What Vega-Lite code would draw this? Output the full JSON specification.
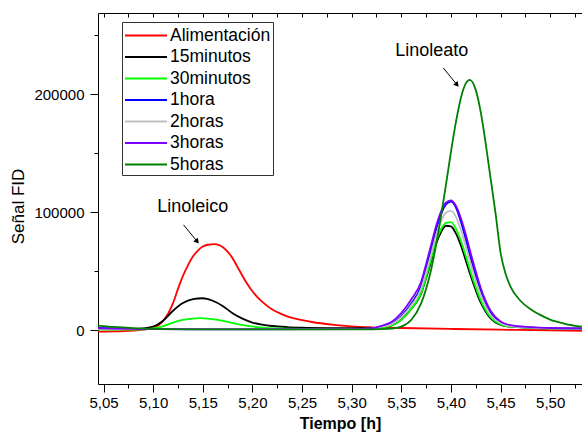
{
  "$schema": "https://vega.github.io/schema/vega-lite/v6.json",
  "width": 484,
  "height": 371,
  "autosize": {"type": "none"},
  "padding": {"left": 98, "top": 13, "right": 0, "bottom": 53},
  "background": "white",
  "config": {
    "view": {"stroke": null},
    "font": "Liberation Sans",
    "axis": {"grid": false, "domainColor": "black", "tickColor": "black", "labelColor": "black", "titleColor": "black", "labelFont": "Liberation Sans", "titleFont": "Liberation Sans", "domainWidth": 1, "tickWidth": 1}
  },
  "datasets": {
    "curves": [
      {"s":"Alimentación","t":5.044,"v":-1200},{"s":"Alimentación","t":5.06,"v":-1000},{"s":"Alimentación","t":5.07,"v":-700},{"s":"Alimentación","t":5.08,"v":-200},{"s":"Alimentación","t":5.09,"v":600},{"s":"Alimentación","t":5.10,"v":2000},{"s":"Alimentación","t":5.105,"v":4000},{"s":"Alimentación","t":5.11,"v":8000},{"s":"Alimentación","t":5.115,"v":14000},{"s":"Alimentación","t":5.12,"v":23000},{"s":"Alimentación","t":5.125,"v":35000},{"s":"Alimentación","t":5.13,"v":46000},{"s":"Alimentación","t":5.135,"v":55000},{"s":"Alimentación","t":5.14,"v":62400},{"s":"Alimentación","t":5.145,"v":67500},{"s":"Alimentación","t":5.15,"v":70900},{"s":"Alimentación","t":5.155,"v":72400},{"s":"Alimentación","t":5.162,"v":72900},{"s":"Alimentación","t":5.168,"v":71500},{"s":"Alimentación","t":5.174,"v":67500},{"s":"Alimentación","t":5.18,"v":61000},{"s":"Alimentación","t":5.185,"v":53500},{"s":"Alimentación","t":5.19,"v":46000},{"s":"Alimentación","t":5.195,"v":39000},{"s":"Alimentación","t":5.20,"v":33000},{"s":"Alimentación","t":5.205,"v":28000},{"s":"Alimentación","t":5.21,"v":24000},{"s":"Alimentación","t":5.22,"v":17500},{"s":"Alimentación","t":5.23,"v":13500},{"s":"Alimentación","t":5.24,"v":10500},{"s":"Alimentación","t":5.25,"v":8500},{"s":"Alimentación","t":5.26,"v":7000},{"s":"Alimentación","t":5.28,"v":4800},{"s":"Alimentación","t":5.30,"v":3300},{"s":"Alimentación","t":5.32,"v":2500},{"s":"Alimentación","t":5.35,"v":1900},{"s":"Alimentación","t":5.40,"v":1100},{"s":"Alimentación","t":5.45,"v":500},{"s":"Alimentación","t":5.50,"v":0},{"s":"Alimentación","t":5.532,"v":-500},

      {"s":"15minutos","t":5.044,"v":1000},{"s":"15minutos","t":5.07,"v":900},{"s":"15minutos","t":5.085,"v":1200},{"s":"15minutos","t":5.09,"v":1600},{"s":"15minutos","t":5.10,"v":3000},{"s":"15minutos","t":5.11,"v":8000},{"s":"15minutos","t":5.12,"v":16500},{"s":"15minutos","t":5.13,"v":23000},{"s":"15minutos","t":5.14,"v":26300},{"s":"15minutos","t":5.15,"v":27100},{"s":"15minutos","t":5.16,"v":25000},{"s":"15minutos","t":5.17,"v":20600},{"s":"15minutos","t":5.18,"v":14400},{"s":"15minutos","t":5.19,"v":9800},{"s":"15minutos","t":5.20,"v":6500},{"s":"15minutos","t":5.21,"v":4700},{"s":"15minutos","t":5.22,"v":3600},{"s":"15minutos","t":5.235,"v":2700},{"s":"15minutos","t":5.25,"v":2200},{"s":"15minutos","t":5.28,"v":1800},{"s":"15minutos","t":5.30,"v":1700},{"s":"15minutos","t":5.32,"v":1800},{"s":"15minutos","t":5.33,"v":2500},{"s":"15minutos","t":5.34,"v":4000},{"s":"15minutos","t":5.35,"v":9000},{"s":"15minutos","t":5.36,"v":18000},{"s":"15minutos","t":5.37,"v":31000},{"s":"15minutos","t":5.375,"v":44000},{"s":"15minutos","t":5.38,"v":58000},{"s":"15minutos","t":5.385,"v":73000},{"s":"15minutos","t":5.39,"v":83000},{"s":"15minutos","t":5.395,"v":88500},{"s":"15minutos","t":5.40,"v":88000},{"s":"15minutos","t":5.405,"v":82000},{"s":"15minutos","t":5.41,"v":72000},{"s":"15minutos","t":5.415,"v":59000},{"s":"15minutos","t":5.42,"v":46000},{"s":"15minutos","t":5.425,"v":34000},{"s":"15minutos","t":5.43,"v":23500},{"s":"15minutos","t":5.44,"v":10000},{"s":"15minutos","t":5.45,"v":4500},{"s":"15minutos","t":5.46,"v":3000},{"s":"15minutos","t":5.48,"v":2000},{"s":"15minutos","t":5.50,"v":1600},{"s":"15minutos","t":5.532,"v":1300},

      {"s":"30minutos","t":5.044,"v":600},{"s":"30minutos","t":5.08,"v":600},{"s":"30minutos","t":5.09,"v":800},{"s":"30minutos","t":5.10,"v":1500},{"s":"30minutos","t":5.11,"v":3500},{"s":"30minutos","t":5.12,"v":6500},{"s":"30minutos","t":5.13,"v":8700},{"s":"30minutos","t":5.14,"v":9900},{"s":"30minutos","t":5.147,"v":10200},{"s":"30minutos","t":5.155,"v":9900},{"s":"30minutos","t":5.165,"v":8700},{"s":"30minutos","t":5.175,"v":7000},{"s":"30minutos","t":5.185,"v":5200},{"s":"30minutos","t":5.195,"v":3700},{"s":"30minutos","t":5.21,"v":2300},{"s":"30minutos","t":5.23,"v":1500},{"s":"30minutos","t":5.25,"v":1100},{"s":"30minutos","t":5.28,"v":900},{"s":"30minutos","t":5.30,"v":900},{"s":"30minutos","t":5.32,"v":1000},{"s":"30minutos","t":5.33,"v":2300},{"s":"30minutos","t":5.34,"v":3800},{"s":"30minutos","t":5.35,"v":8800},{"s":"30minutos","t":5.36,"v":18000},{"s":"30minutos","t":5.37,"v":31500},{"s":"30minutos","t":5.375,"v":45000},{"s":"30minutos","t":5.38,"v":60000},{"s":"30minutos","t":5.385,"v":75000},{"s":"30minutos","t":5.39,"v":85500},{"s":"30minutos","t":5.395,"v":91000},{"s":"30minutos","t":5.40,"v":91500},{"s":"30minutos","t":5.405,"v":86000},{"s":"30minutos","t":5.41,"v":76000},{"s":"30minutos","t":5.415,"v":63000},{"s":"30minutos","t":5.42,"v":49000},{"s":"30minutos","t":5.425,"v":36500},{"s":"30minutos","t":5.43,"v":25500},{"s":"30minutos","t":5.44,"v":11000},{"s":"30minutos","t":5.45,"v":5000},{"s":"30minutos","t":5.46,"v":3000},{"s":"30minutos","t":5.48,"v":2000},{"s":"30minutos","t":5.50,"v":1500},{"s":"30minutos","t":5.532,"v":1200},

      {"s":"1hora","t":5.044,"v":2000},{"s":"1hora","t":5.06,"v":1600},{"s":"1hora","t":5.08,"v":1200},{"s":"1hora","t":5.10,"v":1000},{"s":"1hora","t":5.15,"v":900},{"s":"1hora","t":5.20,"v":900},{"s":"1hora","t":5.25,"v":900},{"s":"1hora","t":5.30,"v":1000},{"s":"1hora","t":5.32,"v":1400},{"s":"1hora","t":5.33,"v":3200},{"s":"1hora","t":5.34,"v":5500},{"s":"1hora","t":5.35,"v":12000},{"s":"1hora","t":5.36,"v":22500},{"s":"1hora","t":5.37,"v":37500},{"s":"1hora","t":5.375,"v":52000},{"s":"1hora","t":5.38,"v":68000},{"s":"1hora","t":5.385,"v":85000},{"s":"1hora","t":5.39,"v":98000},{"s":"1hora","t":5.395,"v":106500},{"s":"1hora","t":5.40,"v":109000},{"s":"1hora","t":5.405,"v":104000},{"s":"1hora","t":5.41,"v":92000},{"s":"1hora","t":5.415,"v":77000},{"s":"1hora","t":5.42,"v":61000},{"s":"1hora","t":5.425,"v":46000},{"s":"1hora","t":5.43,"v":33000},{"s":"1hora","t":5.44,"v":14500},{"s":"1hora","t":5.45,"v":6500},{"s":"1hora","t":5.46,"v":3800},{"s":"1hora","t":5.48,"v":2400},{"s":"1hora","t":5.50,"v":1800},{"s":"1hora","t":5.532,"v":1500},

      {"s":"2horas","t":5.044,"v":1200},{"s":"2horas","t":5.10,"v":1000},{"s":"2horas","t":5.20,"v":900},{"s":"2horas","t":5.30,"v":1000},{"s":"2horas","t":5.32,"v":1300},{"s":"2horas","t":5.33,"v":3000},{"s":"2horas","t":5.34,"v":5000},{"s":"2horas","t":5.35,"v":11000},{"s":"2horas","t":5.36,"v":21000},{"s":"2horas","t":5.37,"v":35000},{"s":"2horas","t":5.375,"v":49000},{"s":"2horas","t":5.38,"v":64000},{"s":"2horas","t":5.385,"v":80000},{"s":"2horas","t":5.39,"v":92000},{"s":"2horas","t":5.395,"v":99500},{"s":"2horas","t":5.40,"v":101000},{"s":"2horas","t":5.405,"v":96000},{"s":"2horas","t":5.41,"v":85000},{"s":"2horas","t":5.415,"v":71000},{"s":"2horas","t":5.42,"v":56000},{"s":"2horas","t":5.425,"v":42000},{"s":"2horas","t":5.43,"v":30000},{"s":"2horas","t":5.44,"v":13000},{"s":"2horas","t":5.45,"v":6000},{"s":"2horas","t":5.46,"v":3500},{"s":"2horas","t":5.48,"v":2200},{"s":"2horas","t":5.50,"v":1700},{"s":"2horas","t":5.532,"v":1400},

      {"s":"3horas","t":5.044,"v":1700},{"s":"3horas","t":5.06,"v":1400},{"s":"3horas","t":5.08,"v":1100},{"s":"3horas","t":5.10,"v":900},{"s":"3horas","t":5.20,"v":800},{"s":"3horas","t":5.30,"v":1000},{"s":"3horas","t":5.32,"v":1600},{"s":"3horas","t":5.33,"v":3800},{"s":"3horas","t":5.34,"v":7000},{"s":"3horas","t":5.35,"v":14500},{"s":"3horas","t":5.36,"v":26000},{"s":"3horas","t":5.37,"v":41000},{"s":"3horas","t":5.375,"v":56000},{"s":"3horas","t":5.38,"v":72000},{"s":"3horas","t":5.385,"v":88000},{"s":"3horas","t":5.39,"v":100500},{"s":"3horas","t":5.395,"v":108000},{"s":"3horas","t":5.40,"v":110000},{"s":"3horas","t":5.405,"v":105500},{"s":"3horas","t":5.41,"v":95000},{"s":"3horas","t":5.415,"v":81000},{"s":"3horas","t":5.42,"v":65000},{"s":"3horas","t":5.425,"v":50000},{"s":"3horas","t":5.43,"v":36000},{"s":"3horas","t":5.44,"v":16500},{"s":"3horas","t":5.45,"v":7500},{"s":"3horas","t":5.46,"v":4300},{"s":"3horas","t":5.48,"v":2600},{"s":"3horas","t":5.50,"v":1900},{"s":"3horas","t":5.532,"v":1600},

      {"s":"5horas","t":5.044,"v":4000},{"s":"5horas","t":5.06,"v":2800},{"s":"5horas","t":5.08,"v":1800},{"s":"5horas","t":5.10,"v":1200},{"s":"5horas","t":5.15,"v":800},{"s":"5horas","t":5.20,"v":700},{"s":"5horas","t":5.25,"v":700},{"s":"5horas","t":5.30,"v":800},{"s":"5horas","t":5.32,"v":800},{"s":"5horas","t":5.33,"v":900},{"s":"5horas","t":5.34,"v":1400},{"s":"5horas","t":5.35,"v":3100},{"s":"5horas","t":5.36,"v":8700},{"s":"5horas","t":5.37,"v":22700},{"s":"5horas","t":5.375,"v":35000},{"s":"5horas","t":5.38,"v":51000},{"s":"5horas","t":5.385,"v":72000},{"s":"5horas","t":5.39,"v":96500},{"s":"5horas","t":5.395,"v":123000},{"s":"5horas","t":5.40,"v":150700},{"s":"5horas","t":5.405,"v":176000},{"s":"5horas","t":5.41,"v":196500},{"s":"5horas","t":5.415,"v":209000},{"s":"5horas","t":5.419,"v":212000},{"s":"5horas","t":5.425,"v":203500},{"s":"5horas","t":5.43,"v":185000},{"s":"5horas","t":5.435,"v":158500},{"s":"5horas","t":5.44,"v":128500},{"s":"5horas","t":5.445,"v":99000},{"s":"5horas","t":5.45,"v":66000},{"s":"5horas","t":5.455,"v":48000},{"s":"5horas","t":5.46,"v":37000},{"s":"5horas","t":5.47,"v":25000},{"s":"5horas","t":5.48,"v":18000},{"s":"5horas","t":5.49,"v":13000},{"s":"5horas","t":5.50,"v":9000},{"s":"5horas","t":5.515,"v":5500},{"s":"5horas","t":5.532,"v":3000}
    ],
    "labels": [
      {"label": "Linoleico", "t": 5.1398, "v": 100500},
      {"label": "Linoleato", "t": 5.3807, "v": 231900}
    ],
    "arrows": [
      {"t": 5.1306, "v": 89240, "t2": 5.1438, "v2": 75700},
      {"t": 5.3924, "v": 222000, "t2": 5.4056, "v2": 208400}
    ]
  },
  "layer": [
    {
      "data": {"name": "curves"},
      "mark": {"type": "line", "strokeWidth": 1.8, "interpolate": "monotone", "clip": true},
      "encoding": {
        "x": {"field": "t", "type": "quantitative", "scale": {"domain": [5.0444, 5.5321], "nice": false, "zero": false},
          "axis": {"orient": "bottom", "values": [5.05, 5.1, 5.15, 5.2, 5.25, 5.3, 5.35, 5.4, 5.45, 5.5], "labelExpr": "replace(format(datum.value, '.2f'), '.', ',')", "tickSize": 8, "labelPadding": 3, "labelFontSize": 15, "title": "Tiempo [h]", "titleFontSize": 16, "titleFontWeight": "bold", "titlePadding": 5, "labelFlush": false, "labelOverlap": false}},
        "y": {"field": "v", "type": "quantitative", "scale": {"domain": [-45500, 268600], "nice": false, "zero": false},
          "axis": {"orient": "left", "values": [0, 100000, 200000], "format": "d", "tickSize": 8, "labelPadding": 6, "labelFontSize": 15, "title": "Señal FID", "titleFontSize": 17, "titleFontWeight": "normal", "titlePadding": 6, "titleY": 193, "labelFlush": false, "labelOverlap": false}},
        "color": {"field": "s", "type": "nominal",
          "scale": {"domain": ["Alimentación", "15minutos", "30minutos", "1hora", "2horas", "3horas", "5horas"], "range": ["#FF0000", "#000000", "#00FF00", "#0000FF", "#C0C0C0", "#8000FF", "#008000"]},
          "legend": {"orient": "none", "legendX": 24, "legendY": 9, "title": null, "symbolType": "M-1,0H3", "symbolSize": 441, "symbolStrokeWidth": 2, "labelFontSize": 17.5, "labelFont": "Liberation Sans", "labelColor": "black", "strokeColor": "#333333", "fillColor": "white", "padding": 2, "rowPadding": 1.5, "labelOffset": 23, "labelLimit": 300}}
      }
    },
    {
      "data": {"name": "curves"},
      "mark": {"type": "point", "opacity": 0},
      "encoding": {
        "x": {"field": "t", "type": "quantitative", "scale": {"domain": [5.0444, 5.5321], "nice": false, "zero": false},
          "axis": {"orient": "bottom", "values": [5.075, 5.125, 5.175, 5.225, 5.275, 5.325, 5.375, 5.425, 5.475, 5.525], "labels": false, "domain": false, "tickSize": 4, "title": null}},
        "y": {"field": "v", "type": "quantitative", "scale": {"domain": [-45500, 268600], "nice": false, "zero": false},
          "axis": {"orient": "left", "values": [50000, 150000, 250000], "labels": false, "domain": false, "tickSize": 4, "title": null}}
      }
    },
    {
      "data": {"name": "curves"},
      "mark": {"type": "point", "opacity": 0},
      "encoding": {
        "x": {"field": "t", "type": "quantitative", "scale": {"domain": [5.0444, 5.5321], "nice": false, "zero": false},
          "axis": {"orient": "top", "values": [5.05, 5.075, 5.1, 5.125, 5.15, 5.175, 5.2, 5.225, 5.25, 5.275, 5.3, 5.325, 5.35, 5.375, 5.4, 5.425, 5.45, 5.475, 5.5, 5.525], "labels": false, "tickSize": -4, "title": null}},
        "y": {"field": "v", "type": "quantitative", "scale": {"domain": [-45500, 268600], "nice": false, "zero": false}, "axis": null}
      }
    },
    {
      "data": {"name": "labels"},
      "mark": {"type": "text", "fontSize": 18, "font": "Liberation Sans", "color": "black", "align": "center", "baseline": "alphabetic"},
      "encoding": {
        "x": {"field": "t", "type": "quantitative", "axis": null},
        "y": {"field": "v", "type": "quantitative", "axis": null},
        "text": {"field": "label"}
      }
    },
    {
      "data": {"name": "arrows"},
      "mark": {"type": "rule", "color": "black", "strokeWidth": 1},
      "encoding": {
        "x": {"field": "t", "type": "quantitative", "axis": null},
        "y": {"field": "v", "type": "quantitative", "axis": null},
        "x2": {"field": "t2"},
        "y2": {"field": "v2"}
      }
    },
    {
      "data": {"name": "arrows"},
      "mark": {"type": "point", "shape": "triangle", "filled": true, "color": "black", "size": 35, "angle": 141, "opacity": 1},
      "encoding": {
        "x": {"field": "t2", "type": "quantitative", "axis": null},
        "y": {"field": "v2", "type": "quantitative", "axis": null}
      }
    }
  ],
  "resolve": {"axis": {"x": "independent", "y": "independent"}}
}
